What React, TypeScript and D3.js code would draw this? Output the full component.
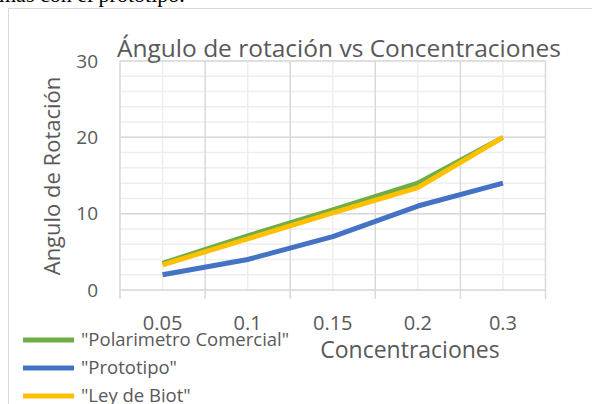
import React, { useEffect, useRef } from "react";
import * as d3 from "d3";

const categories = ["0.05", "0.1", "0.15", "0.2", "0.3"];
const polarimetro = [3.5, 7.1, 10.5, 14, 20];
const prototipo = [2, 4, 7, 11, 14];
const leyBiot = [3.3, 6.7, 10.1, 13.4, 20];
const yTicks = [0, 10, 20, 30];

const seriesList = [
  { name: "\"Polarimetro Comercial\"", values: polarimetro, color: "#70AD47" },
  { name: "\"Prototipo\"", values: prototipo, color: "#4472C4" },
  { name: "\"Ley de Biot\"", values: leyBiot, color: "#FFC000" },
];

const W = 592;
const H = 404;
const FONT = "'Open Sans', sans-serif";
const TXT = "#595959";

const App: React.FC = () => {
  const svgRef = useRef(null);

  useEffect(() => {
    const svg = d3.select(svgRef.current);
    svg.selectAll("*").remove();

    svg.append("rect").attr("width", W).attr("height", H).attr("fill", "white");

    // document text above the chart, cut off by the image edge
    svg
      .append("text")
      .attr("x", -1)
      .attr("y", 2)
      .attr("font-family", "'Liberation Serif', serif")
      .attr("font-size", 22)
      .attr("fill", "#000")
      .text("mas con el prototipo.");

    // chart frame
    svg
      .append("rect")
      .attr("x", 8.5)
      .attr("y", 8.5)
      .attr("width", W + 10)
      .attr("height", H + 10)
      .attr("fill", "white")
      .attr("stroke", "#d9d9d9")
      .attr("stroke-width", 1);

    const left = 120;
    const right = 545.5;
    const top = 61;
    const bottom = 290;

    const x = d3.scaleBand().domain(categories).range([left, right]);
    const y = d3.scaleLinear().domain([0, 30]).range([bottom, top]);

    const g = svg.append("g");

    // minor horizontal grid
    g.selectAll(".hminor")
      .data(d3.range(0, 31, 2))
      .enter()
      .append("line")
      .attr("x1", left)
      .attr("x2", right)
      .attr("y1", (d) => y(d))
      .attr("y2", (d) => y(d))
      .attr("stroke", "#eeeeee")
      .attr("stroke-width", 1.5);

    // minor vertical grid at category centers
    g.selectAll(".vminor")
      .data(categories)
      .enter()
      .append("line")
      .attr("x1", (d) => x(d)! + x.bandwidth() / 2)
      .attr("x2", (d) => x(d)! + x.bandwidth() / 2)
      .attr("y1", top)
      .attr("y2", bottom)
      .attr("stroke", "#eeeeee")
      .attr("stroke-width", 1.5);

    // major horizontal grid
    g.selectAll(".hmajor")
      .data(yTicks)
      .enter()
      .append("line")
      .attr("x1", left)
      .attr("x2", right)
      .attr("y1", (d) => y(d))
      .attr("y2", (d) => y(d))
      .attr("stroke", "#d9d9d9")
      .attr("stroke-width", 1.5);

    // major vertical grid at band edges, with tick marks below the axis
    const edges = categories.map((c) => x(c)!).concat([right]);
    g.selectAll(".vmajor")
      .data(edges)
      .enter()
      .append("line")
      .attr("x1", (d) => d)
      .attr("x2", (d) => d)
      .attr("y1", top)
      .attr("y2", bottom + 9)
      .attr("stroke", "#d9d9d9")
      .attr("stroke-width", 1.5);

    // y tick labels
    g.selectAll(".ylab")
      .data(yTicks)
      .enter()
      .append("text")
      .attr("x", 98)
      .attr("y", (d) => y(d))
      .attr("dy", "0.35em")
      .attr("text-anchor", "end")
      .attr("font-family", FONT)
      .attr("font-size", 19)
      .attr("fill", TXT)
      .text((d) => d);

    // x tick labels
    g.selectAll(".xlab")
      .data(categories)
      .enter()
      .append("text")
      .attr("x", (d) => x(d)! + x.bandwidth() / 2)
      .attr("y", 330)
      .attr("text-anchor", "middle")
      .attr("font-family", FONT)
      .attr("font-size", 20)
      .attr("fill", TXT)
      .text((d) => d);

    // lines
    const line = d3
      .line<number>()
      .x((_, i) => x(categories[i])! + x.bandwidth() / 2)
      .y((d) => y(d));

    seriesList.forEach((s) => {
      g.append("path")
        .datum(s.values)
        .attr("d", line)
        .attr("fill", "none")
        .attr("stroke", s.color)
        .attr("stroke-width", 5)
        .attr("stroke-linejoin", "round");
    });

    // title
    svg
      .append("text")
      .attr("x", 117)
      .attr("y", 57)
      .attr("font-family", FONT)
      .attr("font-size", 24.5)
      .attr("fill", TXT)
      .text("Ángulo de rotación vs Concentraciones");

    // axis titles
    svg
      .append("text")
      .attr("x", 410)
      .attr("y", 358)
      .attr("text-anchor", "middle")
      .attr("font-family", FONT)
      .attr("font-size", 23)
      .attr("fill", TXT)
      .text("Concentraciones");

    svg
      .append("text")
      .attr("transform", "translate(60,176) rotate(-90)")
      .attr("text-anchor", "middle")
      .attr("font-family", FONT)
      .attr("font-size", 22)
      .attr("fill", TXT)
      .text("Angulo de Rotación");

    // legend
    const legend = svg
      .selectAll(".leg")
      .data(seriesList)
      .enter()
      .append("g")
      .attr("transform", (_, i) => `translate(23, ${340 + i * 28})`);

    legend
      .append("line")
      .attr("x1", 0)
      .attr("x2", 51)
      .attr("stroke", (d) => d.color)
      .attr("stroke-width", 5);

    legend
      .append("text")
      .attr("x", 58)
      .attr("dy", "0.35em")
      .attr("font-family", FONT)
      .attr("font-size", 18.5)
      .attr("fill", TXT)
      .text((d) => d.name);
  }, []);

  return (
    <svg
      ref={svgRef}
      width={W}
      height={H}
      style={{ position: "absolute", left: 0, top: 0 }}
    />
  );
};

export default App;
